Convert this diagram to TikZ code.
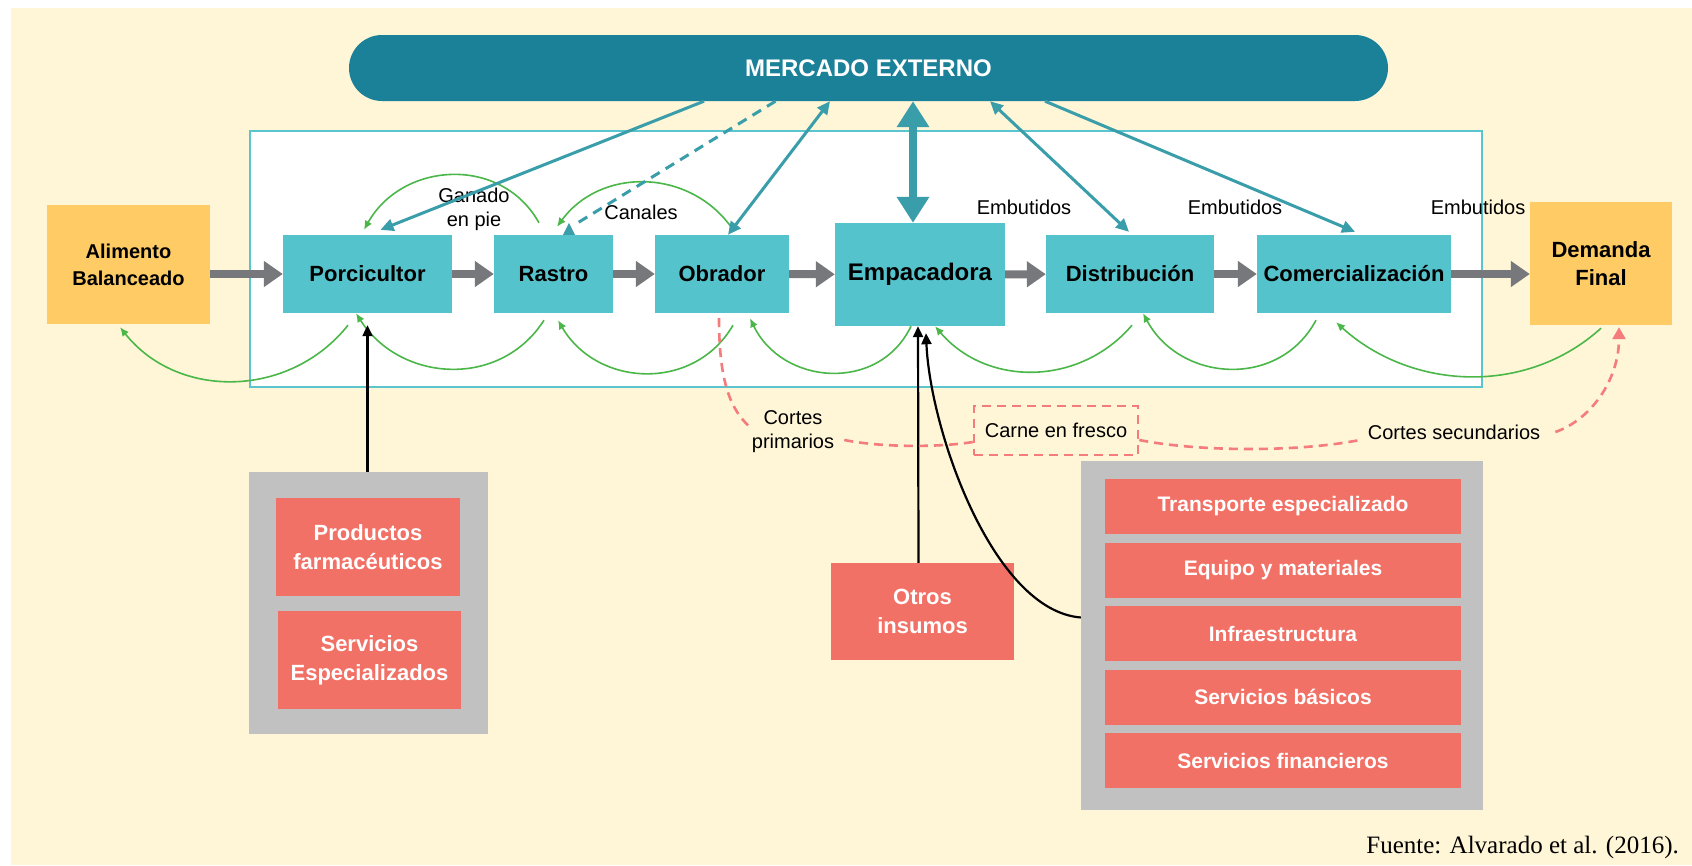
\documentclass[tikz,border=0pt]{standalone}
\usepackage{fontspec}
\setmainfont{Liberation Sans}
\newfontfamily\fuentefont{Liberation Serif}
\usepackage{xcolor}
\usetikzlibrary{arrows.meta}
\definecolor{crema}{HTML}{FFF5D7}
\definecolor{cian}{HTML}{54C3CC}
\definecolor{marco}{HTML}{5BC5CF}
\definecolor{petroleo}{HTML}{1A8199}
\definecolor{flechaaz}{HTML}{3A9EAA}
\definecolor{grisfl}{HTML}{77787B}
\definecolor{amarillo}{HTML}{FECB65}
\definecolor{rojo}{HTML}{F27166}
\definecolor{grispanel}{HTML}{C1C1C1}
\definecolor{verde}{HTML}{4BB749}
\definecolor{rosa}{HTML}{F47C7C}
\tikzset{%
  tipG/.tip={Triangle[width=25pt,length=19pt]},
  tipM/.tip={Triangle[width=31pt,length=26pt]},
  tipT/.tip={Triangle[width=12pt,length=13pt]},
  tipV/.tip={Latex[width=8pt,length=9pt]},
  tipR/.tip={Triangle[width=13pt,length=12pt]},
  tipN/.tip={Triangle[width=10pt,length=11pt]},
  eslabon/.style={fill=cian, inner sep=0pt, align=center, font=\bfseries\fontsize{22}{26}\selectfont},
  extremo/.style={fill=amarillo, inner sep=0pt, align=center},
  insumo/.style={fill=rojo, text=white, inner sep=0pt, align=center, font=\bfseries\fontsize{22}{29}\selectfont},
  panel/.style={fill=grispanel, inner sep=0pt},
  rotulo/.style={inner sep=0pt, align=center, font=\fontsize{20}{24}\selectfont},
  flujo/.style={draw=grisfl, line width=8pt, -tipG},
  externo/.style={draw=flechaaz, line width=3pt},
  vuelta/.style={draw=verde, line width=1.6pt, -tipV},
  cortes/.style={draw=rosa, line width=2.6pt, dash pattern=on 9pt off 6pt},
  apoyo/.style={draw=black, line width=2.2pt, -tipN}
}

\begin{document}
\begin{tikzpicture}[x=1pt,y=-1pt]
    \useasboundingbox (0,0) rectangle (1692,865);
    \fill[crema] (11,8) rectangle (1692,865);
    \draw[marco, fill=white, line width=2pt] (250,131) rectangle (1482,387);
    \node[fill=petroleo, text=white, rounded corners=33pt, minimum width=1039pt, minimum height=66pt, font=\bfseries\fontsize{24}{28}\selectfont] (mercado) at (868.5,68) {MERCADO EXTERNO};
    % cadena
    \node[extremo, minimum width=163pt, minimum height=119pt, font=\bfseries\fontsize{20}{27}\selectfont] (alim) at (128.5,264.5) {Alimento\\Balanceado};
    \node[eslabon, minimum width=169pt, minimum height=78pt] (porc) at (367.5,274) {Porcicultor};
    \node[eslabon, minimum width=119pt, minimum height=78pt] (rastro) at (553.5,274) {Rastro};
    \node[eslabon, minimum width=134pt, minimum height=78pt] (obrador) at (722,274) {Obrador};
    \node[eslabon, minimum width=170pt, minimum height=103pt, font=\bfseries\fontsize{24}{28}\selectfont] (empac) at (920,274.5) {Empacadora};
    \node[eslabon, minimum width=168pt, minimum height=78pt] (distrib) at (1130,274) {Distribución};
    \node[eslabon, minimum width=194pt, minimum height=78pt] (comerc) at (1354,274) {Comercialización};
    \node[extremo, minimum width=142pt, minimum height=123pt, font=\bfseries\fontsize{22}{28}\selectfont] (demanda) at (1601,263.5) {Demanda\\Final};
    % insumos
    \node[panel, minimum width=239pt, minimum height=262pt] (panelA) at (368.5,603) {};
    \node[insumo, minimum width=184pt, minimum height=98pt] (farma) at (368,547) {Productos\\farmacéuticos};
    \node[insumo, minimum width=183pt, minimum height=98pt] (servesp) at (369.5,660) {Servicios\\Especializados};
    \node[insumo, minimum width=183pt, minimum height=97pt] (otros) at (922.5,611.5) {Otros\\insumos};
    \node[panel, minimum width=402pt, minimum height=349pt] (panelB) at (1282,635.5) {};
    \foreach \txt [count=\i from 0] in {Transporte especializado, Equipo y materiales, Infraestructura, Servicios básicos, Servicios financieros}
      \node[insumo, minimum width=356pt, minimum height=55pt, font=\bfseries\fontsize{21}{25}\selectfont] (fila\i) at (1283,506.5+63.5*\i) {\txt};
    % rotulos
    \node[rotulo] (ganado) at (474,209) {Ganado\\en pie};
    \node[rotulo] (canales) at (641,212) {Canales};
    \node[rotulo] (embA) at (1024,207) {Embutidos};
    \node[rotulo] (embB) at (1235,207) {Embutidos};
    \node[rotulo] (embC) at (1478,207) {Embutidos};
    \node[rotulo] (cortesA) at (793,432) {Cortes\\primarios};
    \node[rotulo, cortes, minimum width=164pt, minimum height=49pt] (carne) at (1056,430.5) {Carne en fresco};
    \node[rotulo] (cortesB) at (1454,432) {Cortes secundarios};
    \node[anchor=east, inner sep=0pt, font=\fuentefont\fontsize{25}{28}\selectfont] (fuente) at (1679,847) {Fuente: Alvarado et al. (2016).};
    % flujo principal
    \draw[flujo] (alim.east |- porc) -- (porc);
    \draw[flujo] (porc) -- (rastro);
    \draw[flujo] (rastro) -- (obrador);
    \draw[flujo] (obrador) -- (empac);
    \draw[flujo] (empac) -- (distrib);
    \draw[flujo] (distrib) -- (comerc);
    \draw[flujo] (comerc) -- (demanda.west |- comerc);
    % vueltas
    \draw[vuelta] ([xshift=-14.5pt,yshift=12pt]rastro.north) .. controls +(-38,-68) and +(38,-68) .. ([xshift=-3.5pt,yshift=5pt]porc.north);
    \draw[vuelta] ([xshift=9pt,yshift=8pt]obrador.north) .. controls +(-43,-59) and +(43,-59) .. ([xshift=3.5pt,yshift=8pt]rastro.north);
    \draw[vuelta] ([xshift=-19.5pt,yshift=-12pt]porc.south) .. controls +(-58,73) and +(58,73) .. ([xshift=-8.5pt,yshift=-3pt]alim.south);
    \draw[vuelta] ([xshift=-9.5pt,yshift=-7pt]rastro.south) .. controls +(-44,69) and +(44,69) .. ([xshift=-11.5pt]porc.south);
    \draw[vuelta] ([xshift=11pt,yshift=-12pt]obrador.south) .. controls +(-39,67) and +(39,67) .. ([xshift=4.5pt,yshift=-7pt]rastro.south);
    \draw[vuelta] ([xshift=-9pt]empac.south) .. controls +(-32,67) and +(32,67) .. ([xshift=28pt,yshift=-5pt]obrador.south);
    \draw[vuelta] ([xshift=2pt,yshift=-12pt]distrib.south) .. controls +(-52,61) and +(52,61) .. ([xshift=15pt]empac.south);
    \draw[vuelta] ([xshift=-38pt,yshift=-7pt]comerc.south) .. controls +(-37,69) and +(37,69) .. ([xshift=13pt]distrib.south);
    \draw[vuelta] ([yshift=-3pt]demanda.south) .. controls +(-75,68) and +(75,68) .. ([xshift=-18pt,yshift=-9pt]comerc.south);
    % mercado externo
    \draw[externo, -tipT] ([xshift=-164.5pt]mercado.south) -- ([xshift=13pt,yshift=5pt]porc.north);
    \draw[externo, dash pattern=on 10pt off 7pt] ([xshift=-93pt]mercado.south) -- ([xshift=21pt,yshift=10pt]rastro.north);
    \fill[flechaaz] ([xshift=9.5pt]rastro.north) -- ([xshift=21.5pt]rastro.north) -- ([xshift=15.5pt,yshift=12pt]rastro.north) -- cycle;
    \draw[externo, tipT-tipT] ([xshift=6pt]obrador.north) -- ([xshift=-38.5pt]mercado.south);
    \draw[draw=flechaaz, line width=8pt, tipM-tipM] ([xshift=-7pt]empac.north) -- ([xshift=44.5pt]mercado.south);
    \draw[externo, tipT-tipT] ([xshift=121.5pt]mercado.south) -- ([xshift=-1pt,yshift=3pt]distrib.north);
    \draw[externo, -tipT] ([xshift=176.5pt]mercado.south) -- ([xshift=1pt,yshift=3pt]comerc.north);
    % insumos hacia la cadena
    \draw[apoyo] ([xshift=-1pt]panelA.north) -- ([yshift=-12pt]porc.south);
    \draw[apoyo] ([xshift=-4pt]otros.north) -- ([xshift=-2pt]empac.south);
    \draw[apoyo] ([yshift=18pt]panelB.west) .. controls +(-88,-7) and +(4,97) .. ([xshift=6pt,yshift=-7pt]empac.south);
    % cortes
    \draw[cortes] ([xshift=-3pt,yshift=-5pt]obrador.south) .. controls +(0,67) and +(-18,-17) .. ([xshift=-2pt,yshift=5pt]cortesA.west);
    \draw[cortes] ([xshift=10pt,yshift=-8pt]cortesA.east) .. controls +(40,8) and +(-30,5) .. ([yshift=-11.5pt]carne.west);
    \draw[cortes] ([yshift=-9.5pt]carne.east) .. controls +(60,12) and +(-60,12) .. ([xshift=-8pt,yshift=-8pt]cortesB.west);
    \draw[cortes, -tipR] ([xshift=15pt]cortesB.east) .. controls +(35,-12) and +(0,53) .. ([xshift=18pt,yshift=-2pt]demanda.south);
\end{tikzpicture}
\end{document}
